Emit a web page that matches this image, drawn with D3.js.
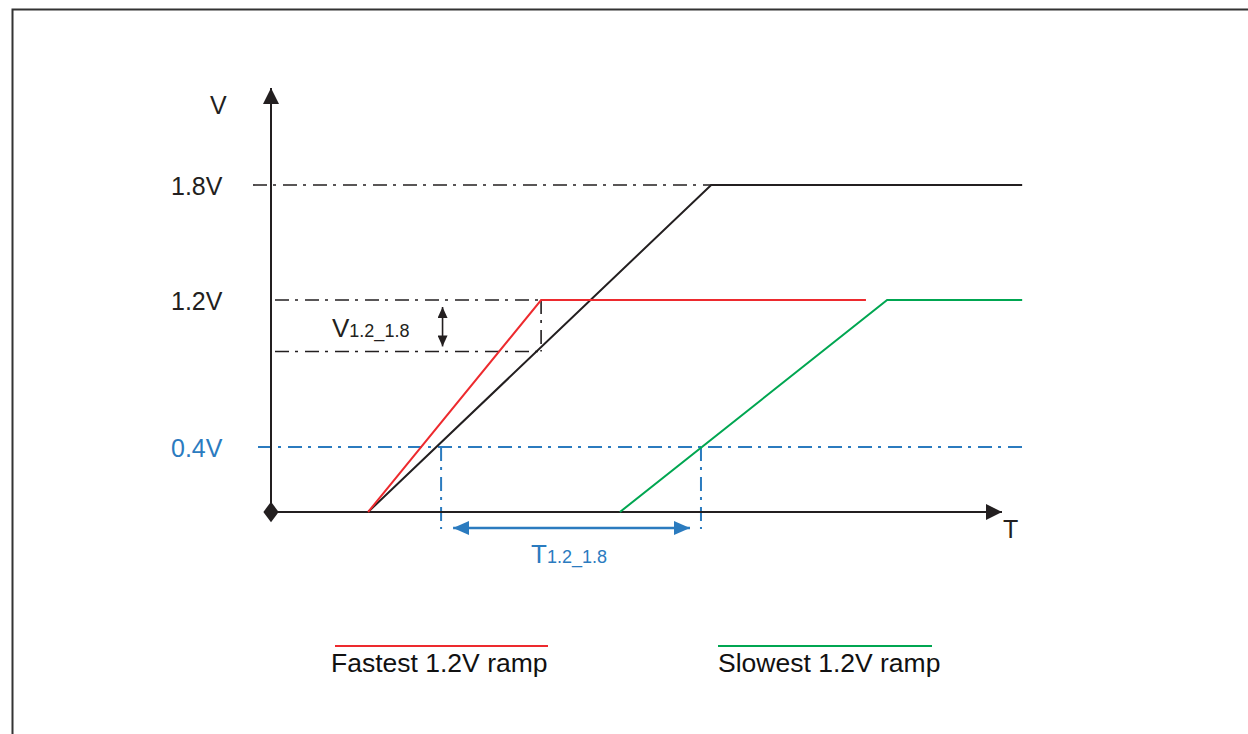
<!DOCTYPE html>
<html>
<head>
<meta charset="utf-8">
<script src="https://cdn.jsdelivr.net/npm/d3@7"></script>
<style>
body { margin: 0; background: #fff; }
text { font-family: "Liberation Sans", Arial, sans-serif; }
</style>
</head>
<body>
<svg id="chart"></svg>
<script>
// reference levels (volts) and their labels
const levelValues = [1.8, 1.2, 0.4];
const levelLabels = ["1.8V", "1.2V", "0.4V"];
// V1.2_1.8 window: black rail value when the fast 1.2V rail is up, and 1.2V
const deltaV = [0.92, 1.2];
// T1.2_1.8 window: times where black and slow green cross 0.4V
const deltaT = [2.33, 5.89];
// ramps as [time, volts]
const rail18 = [[1.33, 0], [6.03, 1.8], [10.29, 1.8]];
const fastRamp = [[1.33, 0], [3.70, 1.2], [8.15, 1.2]];
const slowRamp = [[4.78, 0], [8.44, 1.2], [10.29, 1.2]];
const legendLabels = ["Fastest 1.2V ramp", "Slowest 1.2V ramp"];

const W = 1248, H = 734;
const black = "#231f20", blue = "#2b7bbf", red = "#ed2a2e", green = "#00a651";
const dashDot = "14,6,3,7";

const svg = d3.select("#chart").attr("width", W).attr("height", H);

// frame
svg.append("rect")
    .attr("x", 12.5).attr("y", 9.5)
    .attr("width", W + 20).attr("height", H + 20)
    .attr("fill", "none").attr("stroke", "#333").attr("stroke-width", 2);

const x = d3.scaleLinear().domain([0, 10]).range([271, 1001]);
const y = d3.scaleLinear().domain([0, 0.4, 1.2, 1.8]).range([512, 447, 300, 185]);

// markers
const defs = svg.append("defs");
function arrowMarker(id, color, len, half) {
    defs.append("marker")
        .attr("id", id)
        .attr("markerUnits", "userSpaceOnUse")
        .attr("viewBox", `0 ${-half} ${len} ${half * 2}`)
        .attr("refX", len).attr("refY", 0)
        .attr("markerWidth", len).attr("markerHeight", half * 2)
        .attr("orient", "auto-start-reverse")
        .append("path")
        .attr("d", `M0,${-half}L${len},0L0,${half}Z`)
        .attr("fill", color);
}
arrowMarker("axisArrow", black, 16, 8);
arrowMarker("blueArrow", blue, 16, 7);
arrowMarker("smallArrow", black, 11, 5);

// dash-dot guide lines
const guides = svg.append("g").attr("fill", "none").attr("stroke-width", 1.6)
    .attr("stroke-dasharray", dashDot);

// 1.8V
guides.append("line")
    .attr("x1", x(0) - 18).attr("x2", x(rail18[1][0]))
    .attr("y1", y(levelValues[0])).attr("y2", y(levelValues[0]))
    .attr("stroke", black);
// V1.2_1.8 window
deltaV.forEach(v => {
    guides.append("line")
        .attr("x1", x(0) + 4).attr("x2", x(fastRamp[1][0]))
        .attr("y1", y(v)).attr("y2", y(v))
        .attr("stroke", black);
});
guides.append("line")
    .attr("x1", x(fastRamp[1][0])).attr("x2", x(fastRamp[1][0]))
    .attr("y1", y(deltaV[1])).attr("y2", y(deltaV[0]))
    .attr("stroke", black);
// 0.4V
guides.append("line")
    .attr("x1", x(0) - 13).attr("x2", x(rail18[2][0]))
    .attr("y1", y(levelValues[2])).attr("y2", y(levelValues[2]))
    .attr("stroke", blue).attr("stroke-width", 2);
deltaT.forEach(t => {
    guides.append("line")
        .attr("x1", x(t)).attr("x2", x(t))
        .attr("y1", y(levelValues[2])).attr("y2", y(0) + 17)
        .attr("stroke", blue).attr("stroke-width", 2);
});

// axes
svg.append("line")
    .attr("x1", x(0)).attr("x2", x(0))
    .attr("y1", y(0)).attr("y2", 88)
    .attr("stroke", black).attr("stroke-width", 2)
    .attr("marker-end", "url(#axisArrow)");
svg.append("line")
    .attr("x1", x(0)).attr("x2", x(10) + 1)
    .attr("y1", y(0)).attr("y2", y(0))
    .attr("stroke", black).attr("stroke-width", 2)
    .attr("marker-end", "url(#axisArrow)");
svg.append("path")
    .attr("d", d3.symbol(d3.symbolDiamond, 120)())
    .attr("transform", `translate(${x(0)},${y(0)}) scale(1.3,1)`)
    .attr("fill", black);

svg.append("text").attr("x", 210).attr("y", 114)
    .attr("font-size", 25).attr("fill", black).text("V");
svg.append("text").attr("x", 1003).attr("y", 538)
    .attr("font-size", 25).attr("fill", black).text("T");

// level labels
svg.selectAll(".lvl")
    .data(levelValues)
    .enter()
    .append("text")
    .attr("class", "lvl")
    .attr("x", 171)
    .attr("y", d => y(d) + 10)
    .attr("font-size", 25)
    .attr("fill", (d, i) => i === 2 ? blue : black)
    .text((d, i) => levelLabels[i]);

// ramps
const line = d3.line().x(d => x(d[0])).y(d => y(d[1]));
[[rail18, black], [fastRamp, red], [slowRamp, green]].forEach(([data, color]) => {
    svg.append("path")
        .attr("d", line(data))
        .attr("fill", "none")
        .attr("stroke", color)
        .attr("stroke-width", 2);
});

// V1.2_1.8 arrow + label
svg.append("line")
    .attr("x1", x(2.35)).attr("x2", x(2.35))
    .attr("y1", y(deltaV[1]) + 7).attr("y2", y(deltaV[0]) - 5)
    .attr("stroke", black).attr("stroke-width", 1.6)
    .attr("marker-start", "url(#smallArrow)")
    .attr("marker-end", "url(#smallArrow)");
const vLab = svg.append("text").attr("x", 332).attr("y", 337).attr("fill", black);
vLab.append("tspan").attr("font-size", 26).text("V");
vLab.append("tspan").attr("font-size", 18).text("1.2_1.8");

// T1.2_1.8 arrow + label
svg.append("line")
    .attr("x1", x(deltaT[0]) + 12).attr("x2", x(deltaT[1]) - 11)
    .attr("y1", y(0) + 16).attr("y2", y(0) + 16)
    .attr("stroke", blue).attr("stroke-width", 2.5)
    .attr("marker-start", "url(#blueArrow)")
    .attr("marker-end", "url(#blueArrow)");
const tLab = svg.append("text").attr("x", 531).attr("y", 563).attr("fill", blue);
tLab.append("tspan").attr("font-size", 26).text("T");
tLab.append("tspan").attr("font-size", 18).text("1.2_1.8");

// legend
const legend = svg.selectAll(".legend")
    .data(legendLabels)
    .enter()
    .append("g")
    .attr("class", "legend")
    .attr("transform", (d, i) => `translate(${i === 0 ? 331 : 718},0)`);
legend.append("line")
    .attr("x1", (d, i) => i === 0 ? 4 : 0).attr("x2", (d, i) => i === 0 ? 217 : 214)
    .attr("y1", 646).attr("y2", 646)
    .attr("stroke", (d, i) => i === 0 ? red : green)
    .attr("stroke-width", 2);
legend.append("text")
    .attr("x", 0).attr("y", 672)
    .attr("font-size", 26.5)
    .attr("fill", "#111")
    .text(d => d);
</script>
</body>
</html>
